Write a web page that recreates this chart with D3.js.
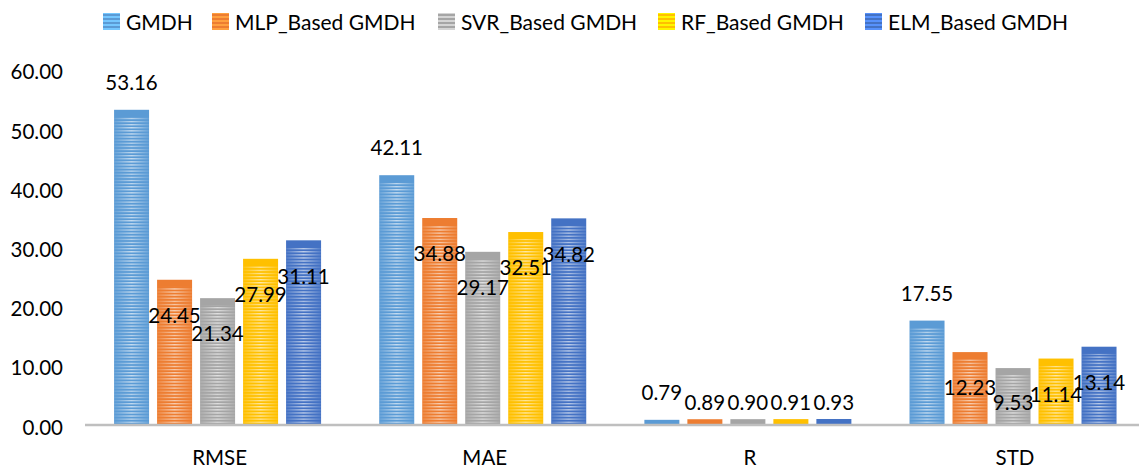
<!DOCTYPE html>
<html>
<head>
<meta charset="utf-8">
<script src="https://cdn.jsdelivr.net/npm/d3@7"></script>
<style>
  html, body { margin: 0; padding: 0; background: #fff; }
  svg { display: block; }
  text { font-family: Lato, "Open Sans", sans-serif; fill: #000; }
</style>
</head>
<body>
<svg id="chart" width="1139" height="472"></svg>
<script>
// Error metrics of the five GMDH variants
const categories = ["RMSE", "MAE", "R", "STD"];
const seriesNames = ["GMDH", "MLP_Based GMDH", "SVR_Based GMDH", "RF_Based GMDH", "ELM_Based GMDH"];
const gmdh = [53.16, 42.11, 0.79, 17.55];
const mlpGmdh = [24.45, 34.88, 0.89, 12.23];
const svrGmdh = [21.34, 29.17, 0.90, 9.53];
const rfGmdh = [27.99, 32.51, 0.91, 11.14];
const elmGmdh = [31.11, 34.82, 0.93, 13.14];
const yTicks = [0, 10, 20, 30, 40, 50, 60];
const colors = ["#5B9BD5", "#ED7D31", "#A5A5A5", "#FFC000", "#4472C4"];

const seriesValues = [gmdh, mlpGmdh, svrGmdh, rfGmdh, elmGmdh];
const series = seriesNames.map((name, i) => ({ name, values: seriesValues[i], color: colors[i], idx: i }));

const svg = d3.select("#chart");
const defs = svg.append("defs");

// Horizontal fade used to mask the stripe highlights (bright centre, dim edges)
const grad = defs.append("linearGradient").attr("id", "fadeH")
  .attr("x1", 0).attr("x2", 1).attr("y1", 0).attr("y2", 0);
grad.append("stop").attr("offset", 0).attr("stop-color", "#222");
grad.append("stop").attr("offset", 0.5).attr("stop-color", "#fff");
grad.append("stop").attr("offset", 1).attr("stop-color", "#222");
const mask = defs.append("mask").attr("id", "fadeMask")
  .attr("maskContentUnits", "objectBoundingBox");
mask.append("rect").attr("width", 1).attr("height", 1).attr("fill", "url(#fadeH)");

// Stripe pattern of light horizontal lines
defs.append("pattern").attr("id", "stripes")
  .attr("patternUnits", "userSpaceOnUse").attr("width", 8).attr("height", 3.1)
  .append("rect").attr("width", 8).attr("height", 1.3).attr("fill", "#fff");

// Legend swatch patterns
series.forEach(s => {
  const p = defs.append("pattern").attr("id", "sw" + s.idx)
    .attr("patternUnits", "userSpaceOnUse").attr("width", 17).attr("height", 4)
    .attr("y", 13);
  p.append("rect").attr("width", 17).attr("height", 4).attr("fill", d3.color(s.color).brighter(0.7));
  p.append("rect").attr("width", 17).attr("height", 2).attr("fill", s.color);
});

const x0 = d3.scaleBand().domain(categories).range([85, 1145.6]);
const x1 = d3.scaleBand().domain(seriesNames)
  .range([0, 215]).paddingInner(0.186).paddingOuter(0.093);
const groupOffset = c => x0(c) + x0.bandwidth() / 2 - 107.5;
const y = d3.scaleLinear().domain([0, 60]).range([424.5, 69.3]);

// Y axis labels
const yAxis = d3.axisLeft(y).tickValues(yTicks).tickFormat(d3.format(".2f")).tickSize(0).tickPadding(0);
const yG = svg.append("g").attr("transform", "translate(63,3)").call(yAxis);
yG.select(".domain").remove();
yG.selectAll("text").style("font-size", "20.5px").attr("fill", "#000")
  .style("font-family", "Lato, 'Open Sans', sans-serif");

// Bars
const groups = svg.append("g").selectAll("g").data(series).join("g");
groups.each(function (s) {
  const g = d3.select(this);
  categories.forEach((c, ci) => {
    const v = s.values[ci];
    const bx = groupOffset(c) + x1(s.name);
    const top = y(v);
    const h = y(0) - top;
    g.append("rect").attr("x", bx).attr("y", top).attr("width", x1.bandwidth()).attr("height", h)
      .attr("fill", s.color);
    const inset = Math.min(7, h);
    g.append("rect").attr("x", bx).attr("y", top + inset).attr("width", x1.bandwidth())
      .attr("height", Math.max(0, h - inset))
      .attr("fill", "url(#stripes)").attr("opacity", 0.65).attr("mask", "url(#fadeMask)");
  });
});

// Baseline
svg.append("line").attr("x1", 85).attr("x2", 1146).attr("y1", y(0) + 0.5).attr("y2", y(0) + 0.5)
  .attr("stroke", "#BFBFBF").attr("stroke-width", 2.5);

// Category labels
const xAxis = d3.axisBottom(x0).tickSize(0).tickPadding(0);
const xG = svg.append("g").attr("transform", `translate(2,${y(0) + 40})`).call(xAxis);
xG.select(".domain").remove();
xG.selectAll("text").style("font-size", "20.5px").attr("fill", "#000").attr("dy", 0)
  .style("font-family", "Lato, 'Open Sans', sans-serif");

// Value labels: first series above its bars, the rest just inside the bar tops
const labels = svg.append("g");
series.forEach(s => {
  categories.forEach((c, ci) => {
    const v = s.values[ci];
    const cx = groupOffset(c) + x1(s.name) + x1.bandwidth() / 2;
    let cy;
    if (s.idx === 0) cy = y(v) - 27;
    else cy = Math.min(y(v) + 36, y(0) - 22);
    labels.append("text").attr("x", cx).attr("y", cy).attr("dy", "0.35em")
      .attr("text-anchor", "middle").style("font-size", "20.5px").text(d3.format(".2f")(v));
  });
});

// Legend
const legendX = [103, 212, 438, 658, 865];
const legend = svg.append("g").selectAll("g").data(series).join("g")
  .attr("transform", (d, i) => `translate(${legendX[i]},13)`);
legend.append("rect").attr("width", 17).attr("height", 17).attr("y", 0)
  .attr("fill", d => `url(#sw${d.idx})`);
legend.append("text").attr("x", 23).attr("y", 9.5).attr("dy", "0.35em")
  .style("font-size", "21px").text(d => d.name);
</script>
</body>
</html>
